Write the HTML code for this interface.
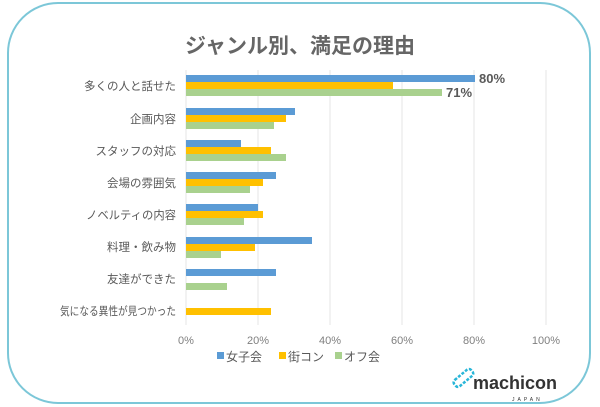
<!DOCTYPE html>
<html><head><meta charset="utf-8"><style>
html,body{margin:0;padding:0;background:#fff;}
svg{display:block;font-family:"Liberation Sans","Noto Sans CJK JP",sans-serif;}
</style></head><body>
<svg width="600" height="407" viewBox="0 0 600 407" xmlns="http://www.w3.org/2000/svg">
<rect x="8" y="3" width="582" height="400" rx="50" ry="50" fill="#fff" stroke="#7cc7d8" stroke-width="2"/>
<text x="300" y="53" text-anchor="middle" font-size="21" font-weight="bold" fill="#666">ジャンル別、満足の理由</text>
<g stroke="#e4e4e4" stroke-width="1">
<line x1="186" y1="70" x2="186" y2="325"/><line x1="258" y1="70" x2="258" y2="325"/>
<line x1="330" y1="70" x2="330" y2="325"/><line x1="402" y1="70" x2="402" y2="325"/>
<line x1="474" y1="70" x2="474" y2="325"/><line x1="546" y1="70" x2="546" y2="325"/>
</g>
<g>
<rect x="186" y="75" width="289" height="7" fill="#5b9bd5"/><rect x="186" y="82" width="207" height="7" fill="#ffc000"/><rect x="186" y="89" width="256" height="7" fill="#a9d18e"/>
<rect x="186" y="108" width="109" height="7" fill="#5b9bd5"/><rect x="186" y="115" width="100" height="7" fill="#ffc000"/><rect x="186" y="122" width="88" height="7" fill="#a9d18e"/>
<rect x="186" y="140" width="55" height="7" fill="#5b9bd5"/><rect x="186" y="147" width="85" height="7" fill="#ffc000"/><rect x="186" y="154" width="100" height="7" fill="#a9d18e"/>
<rect x="186" y="172" width="90" height="7" fill="#5b9bd5"/><rect x="186" y="179" width="77" height="7" fill="#ffc000"/><rect x="186" y="186" width="64" height="7" fill="#a9d18e"/>
<rect x="186" y="204" width="72" height="7" fill="#5b9bd5"/><rect x="186" y="211" width="77" height="7" fill="#ffc000"/><rect x="186" y="218" width="58" height="7" fill="#a9d18e"/>
<rect x="186" y="237" width="126" height="7" fill="#5b9bd5"/><rect x="186" y="244" width="69" height="7" fill="#ffc000"/><rect x="186" y="251" width="35" height="7" fill="#a9d18e"/>
<rect x="186" y="269" width="90" height="7" fill="#5b9bd5"/><rect x="186" y="283" width="41" height="7" fill="#a9d18e"/>
<rect x="186" y="308" width="85" height="7" fill="#ffc000"/>
</g>
<text x="479" y="83" font-size="13" font-weight="bold" fill="#595959">80%</text>
<text x="446" y="97" font-size="13" font-weight="bold" fill="#595959">71%</text>
<g font-size="11.5" fill="#595959" text-anchor="end">
<text x="176" y="90">多くの人と話せた</text>
<text x="176" y="123">企画内容</text>
<text x="176" y="155">スタッフの対応</text>
<text x="176" y="187">会場の雰囲気</text>
<text x="176" y="219" textLength="90" lengthAdjust="spacingAndGlyphs">ノベルティの内容</text>
<text x="176" y="251">料理・飲み物</text>
<text x="176" y="283">友達ができた</text>
<text x="176" y="315" textLength="116" lengthAdjust="spacingAndGlyphs">気になる異性が見つかった</text>
</g>
<g font-size="11" fill="#7f7f7f" text-anchor="middle">
<text x="186" y="344">0%</text><text x="258" y="344">20%</text><text x="330" y="344">40%</text>
<text x="402" y="344">60%</text><text x="474" y="344">80%</text><text x="546" y="344">100%</text>
</g>
<g font-size="12" fill="#595959">
<rect x="217" y="352" width="7" height="7" fill="#5b9bd5"/><text x="226" y="361">女子会</text>
<rect x="279" y="352" width="7" height="7" fill="#ffc000"/><text x="288" y="361">街コン</text>
<rect x="335" y="352" width="7" height="7" fill="#a9d18e"/><text x="344" y="361">オフ会</text>
</g>
<g transform="translate(455,385) rotate(-40)">
<rect x="0" y="-4" width="22" height="8" rx="3" fill="none" stroke="#29b6d8" stroke-width="2.5" stroke-dasharray="3 1.5"/>
</g>
<text x="473" y="389" font-size="18" font-weight="bold" fill="#333">machicon</text>
<text x="512" y="401" font-size="5" fill="#333" letter-spacing="3">JAPAN</text>
</svg>
</body></html>
